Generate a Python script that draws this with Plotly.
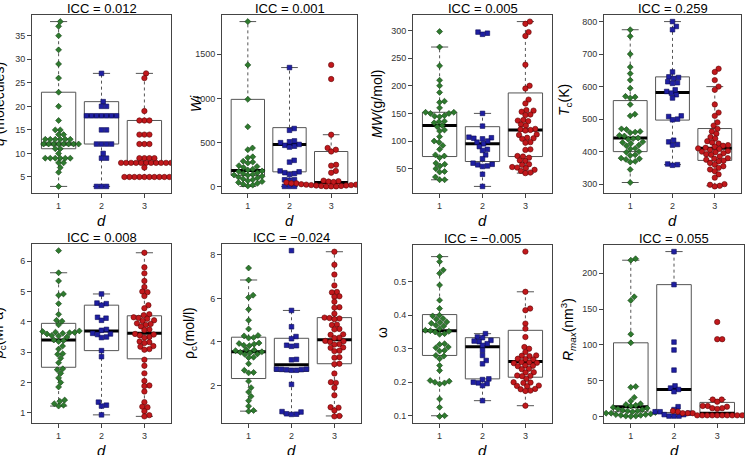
import plotly.graph_objects as go
import numpy as np

W, H = 747, 455
groups = [1, 2, 3]

# ---------------- data ----------------
q1 = [38, 37, 35, 32, 29, 26, 23, 20, 17, 15, 15, 14, 14, 13, 13, 13, 13, 13, 13, 12, 12, 12, 12, 12, 12, 12, 12,
      11, 11, 10, 9, 9, 9, 9, 9, 9, 8, 8, 7, 6, 3]
q2 = [27, 21, 20, 20, 18, 18, 18, 18, 18, 18, 18, 15, 15, 12, 12, 12, 12, 10, 9, 9, 3, 3, 3]
q3 = [27, 26, 19, 17, 17, 17, 14, 14, 14, 12, 12, 12, 9, 9, 9, 9, 8, 8, 8, 8, 8, 8, 8, 8, 8, 8, 8, 7,
      5, 5, 5, 5, 5, 5, 5, 5, 5, 5]
q_box = dict(lo=[3, 3, 5], q1=[11, 12, 8], med=[12, 18, 8], q3=[23, 21, 17], hi=[38, 27, 27])

w1 = [1870, 1380, 990, 680, 440, 420, 340, 330, 290, 280, 270, 240, 230, 220, 200, 190, 180, 175, 160, 150, 140,
      135, 130, 120, 110, 100, 90, 80, 70, 60, 50, 40, 30, 20, 10]
w2 = [1350, 660, 640, 520, 510, 500, 480, 470, 460, 450, 300, 280, 180, 170, 160, 150, 140, 80, 80, 75, 5, 5, 5]
w3 = [1380, 1220, 590, 440, 420, 400, 250, 240, 180, 160, 70, 65, 60, 55, 50, 50, 45, 40, 40, 35, 30, 30, 25, 25,
      20, 20, 15, 15, 10, 10, 5, 5, 5]
w_box = dict(lo=[5, 5, 5], q1=[130, 170, 15], med=[185, 480, 50], q3=[990, 670, 400], hi=[1870, 1350, 590])

m1 = [298, 270, 236, 210, 200, 188, 172, 170, 160, 152, 152, 150, 150, 146, 145, 144, 136, 135, 133, 128, 126, 120,
      118, 108, 100, 98, 92, 85, 75, 73, 70, 60, 58, 55, 50, 45, 44, 35, 30, 30]
m2 = [297, 295, 293, 150, 127, 107, 106, 105, 104, 100, 98, 95, 90, 85, 83, 75, 68, 60, 58, 57, 55, 54, 40, 18]
m3 = [316, 312, 297, 290, 238, 200, 195, 175, 168, 156, 155, 153, 148, 147, 138, 137, 136, 130, 128, 122, 121, 120,
      119, 112, 111, 106, 105, 104, 98, 97, 85, 84, 73, 72, 70, 65, 64, 58, 57, 53, 52, 51, 48, 46, 43, 42]
m_box = dict(lo=[30, 18, 42], q1=[72, 63, 72], med=[128, 95, 120], q3=[152, 126, 187], hi=[270, 150, 316])

t1 = [775, 755, 700, 660, 640, 620, 595, 570, 568, 565, 545, 515, 510, 470, 468, 462, 460, 458, 450, 448, 442, 440,
      438, 430, 428, 425, 420, 418, 410, 408, 400, 398, 390, 388, 380, 378, 376, 370, 368, 345, 305]
t2 = [800, 785, 775, 645, 630, 628, 625, 615, 612, 610, 590, 585, 580, 575, 565, 510, 508, 500, 498, 435, 430, 422,
      420, 362, 360, 358]
t3 = [655, 645, 620, 600, 590, 545, 520, 510, 490, 480, 470, 462, 455, 445, 440, 432, 428, 425, 420, 418, 415, 412,
      410, 408, 405, 402, 400, 398, 395, 392, 390, 385, 380, 378, 375, 372, 370, 365, 360, 355, 350, 345, 340, 330,
      320, 300, 298, 295, 293]
t_box = dict(lo=[305, 360, 295], q1=[400, 497, 373], med=[442, 582, 410], q3=[557, 630, 471], hi=[775, 800, 600])

p1 = [6.35, 5.62, 5.35, 4.92, 4.88, 4.6, 4.25, 4.05, 4.02, 3.9, 3.7, 3.68, 3.66, 3.65, 3.64, 3.62, 3.6, 3.55, 3.53,
      3.5, 3.4, 3.38, 3.35, 3.2, 3.1, 2.95, 2.93, 2.8, 2.65, 2.45, 2.42, 2.3, 2.15, 2.0, 1.85, 1.42, 1.38, 1.3, 1.25,
      1.22]
p2 = [4.92, 4.62, 4.6, 4.55, 4.15, 4.12, 4.05, 3.75, 3.72, 3.62, 3.6, 3.58, 3.5, 3.48, 3.05, 2.85, 1.35, 1.25, 1.22,
      0.93]
p3 = [6.28, 5.8, 5.6, 5.35, 5.15, 5.0, 4.98, 4.85, 4.55, 4.45, 4.25, 4.22, 4.15, 4.13, 4.1, 4.05, 4.03, 3.95, 3.93,
      3.9, 3.85, 3.75, 3.73, 3.6, 3.58, 3.55, 3.5, 3.48, 3.35, 3.33, 3.3, 3.2, 3.18, 3.1, 3.08, 2.75, 2.55, 2.3, 2.05,
      1.9, 1.88, 1.7, 1.35, 1.2, 1.18, 1.05, 0.92, 0.88]
p_box = dict(lo=[1.22, 0.93, 0.88], q1=[2.5, 3.05, 2.78], med=[3.4, 3.7, 3.62], q3=[3.95, 4.55, 4.2],
             hi=[5.62, 4.92, 6.28])

r1 = [7.4, 6.85, 6.15, 6.05, 5.5, 5.0, 4.6, 4.3, 4.28, 4.2, 4.18, 3.95, 3.93, 3.9, 3.85, 3.83, 3.65, 3.63, 3.6, 3.55,
      3.53, 3.5, 3.45, 3.43, 3.3, 3.28, 3.0, 2.7, 2.6, 2.58, 2.2, 1.9, 1.7, 1.5, 1.3, 1.05, 0.85, 0.82]
r2 = [8.2, 5.45, 4.7, 4.25, 4.15, 3.85, 3.83, 3.8, 3.2, 3.18, 2.75, 2.75, 2.74, 2.73, 2.72, 2.7, 2.7, 2.05, 0.8, 0.78,
      0.7, 0.68, 0.67]
r3 = [8.15, 7.55, 7.1, 6.6, 6.3, 6.28, 6.1, 6.08, 5.85, 5.6, 5.58, 5.3, 5.12, 5.1, 5.08, 5.05, 4.8, 4.78, 4.6, 4.58,
      4.35, 4.33, 4.2, 4.18, 4.05, 4.03, 4.0, 3.9, 3.88, 3.75, 3.73, 3.6, 3.58, 3.3, 3.28, 3.0, 2.98, 2.55, 2.15,
      2.12, 1.9, 1.55, 1.0, 0.98, 0.85, 0.6, 0.58]
r_box = dict(lo=[0.82, 0.68, 0.6], q1=[2.32, 2.65, 3.0], med=[3.55, 2.95, 4.1], q3=[4.22, 4.17, 5.12],
             hi=[6.85, 5.45, 8.15])

o1 = [0.575, 0.56, 0.535, 0.525, 0.49, 0.445, 0.42, 0.40, 0.398, 0.39, 0.388, 0.38, 0.378, 0.376, 0.37, 0.368, 0.36,
      0.355, 0.354, 0.352, 0.35, 0.345, 0.343, 0.315, 0.313, 0.305, 0.303, 0.295, 0.293, 0.28, 0.278, 0.27, 0.25,
      0.235, 0.205, 0.203, 0.2, 0.198, 0.195, 0.15, 0.125, 0.1, 0.098]
o2 = [0.345, 0.335, 0.333, 0.325, 0.323, 0.321, 0.315, 0.31, 0.295, 0.28, 0.265, 0.255, 0.21, 0.208, 0.2, 0.198,
      0.196, 0.19, 0.145]
o3 = [0.59, 0.47, 0.42, 0.415, 0.375, 0.36, 0.335, 0.305, 0.3, 0.29, 0.28, 0.279, 0.278, 0.27, 0.269, 0.268, 0.26,
      0.259, 0.258, 0.257, 0.25, 0.249, 0.248, 0.24, 0.239, 0.23, 0.229, 0.22, 0.219, 0.218, 0.21, 0.2, 0.199, 0.198,
      0.19, 0.189, 0.188, 0.18, 0.179, 0.175, 0.174, 0.13]
o_box = dict(lo=[0.1, 0.145, 0.13], q1=[0.28, 0.21, 0.215], med=[0.354, 0.306, 0.262], q3=[0.402, 0.333, 0.355],
             hi=[0.575, 0.345, 0.47])

R1 = [220, 218, 167, 162, 115, 103, 42, 41, 27, 22, 18, 17, 16, 15, 13, 12, 11, 10, 9, 8, 8, 7, 6, 5, 5, 4, 3, 3,
      2, 2, 1, 1, 0.5]
R2 = [230, 184, 104, 93, 65, 43, 40, 38, 35, 14, 10, 7, 7, 5, 3, 3, 1, 1, 1]
R3 = [132, 108, 108, 24, 24, 21, 15, 15, 14, 12, 12, 11, 8, 8, 8, 7, 5, 5, 5, 5, 5, 5, 2, 2, 2, 2, 2, 2, 2, 2,
      2, 2]
R_box = dict(lo=[0.5, 0.5, 0.5], q1=[7, 6, 1.5], med=[14, 38, 5], q3=[103, 184, 20], hi=[218, 230, 24])

titles = ["ICC = 0.012", "ICC = 0.001", "ICC = 0.005", "ICC = 0.259",
          "ICC = 0.008", "ICC = \u22120.024", "ICC = \u22120.005", "ICC = 0.055"]
ylabels = ["<i>q</i> (molecules)", "<i>Wi</i>", "<i>MW</i>(g/mol)", "<i>T</i><sub>c</sub>(K)",
           "<i>p</i><sub>c</sub>(MPa)", "\u03c1<sub>c</sub>(mol/l)", "\u03c9",
           "<i>R</i><sub><i>max</i></sub>(nm<sup>3</sup>)"]
yticks = [[5, 10, 15, 20, 25, 30, 35], [0, 500, 1000, 1500], [50, 100, 150, 200, 250, 300],
          [300, 400, 500, 600, 700, 800], [1, 2, 3, 4, 5, 6], [2, 4, 6, 8], [0.1, 0.2, 0.3, 0.4, 0.5],
          [0, 50, 100, 150, 200]]
xlabel = "d"

panel_data = [(q1, q2, q3), (w1, w2, w3), (m1, m2, m3), (t1, t2, t3),
              (p1, p2, p3), (r1, r2, r3), (o1, o2, o3), (R1, R2, R3)]
panel_box = [q_box, w_box, m_box, t_box, p_box, r_box, o_box, R_box]

# ---------------- layout (pixels) ----------------
frames = [(32, 171, 15, 193), (222, 357, 15, 193), (413, 552, 15, 193), (604, 741, 15, 193),
          (32, 171, 244, 423), (222, 361, 244, 423), (413, 552, 245, 423), (604, 744, 245, 423)]
ylab_pos = [(-1, 104), (196, 104), (377, 104), (565, 100), (-1, 333), (190, 333), (382, 333), (568, 330)]

fill_cols = ["#2e7b2e", "#1f1fa3", "#c2181c"]
edge_cols = ["#103d10", "#0a0a55", "#5c0505"]
symbols = ["diamond", "square", "circle"]
msizes = [4.6, 4.6, 5.4]
XR = [0.38, 3.62]


def swarm(vals, ppy, ppx, d):
    vals = np.asarray(vals, float)
    order = np.argsort(vals, kind="stable")
    placed = []
    xs = np.zeros(len(vals))
    for i in order:
        y = vals[i] * ppy
        near = [(px, py) for px, py in placed if abs(py - y) < d]
        cands = [0.0]
        for px, py in near:
            dx = np.sqrt(d * d - (py - y) ** 2)
            cands += [px + dx, px - dx]
        cands.sort(key=lambda c: (round(abs(c), 6), -c))
        for c in cands:
            if all((c - px) ** 2 + (y - py) ** 2 >= d * d - 1e-6 for px, py in near):
                xs[i] = c
                break
        placed.append((xs[i], y))
    return xs / ppx


fig = go.Figure()
annotations = []
layout_axes = {}
BOXC = "#555555"

for k in range(8):
    x0, x1, y0, y1 = frames[k]
    ax = "" if k == 0 else str(k + 1)
    xa, ya = "x" + ax, "y" + ax
    data = panel_data[k]
    allv = np.concatenate([np.asarray(g, float) for g in data])
    lo, hi = allv.min(), allv.max()
    yr = [lo - 0.04 * (hi - lo), hi + 0.04 * (hi - lo)]
    ppy = (y1 - y0) / (yr[1] - yr[0])
    ppx = (x1 - x0) / (XR[1] - XR[0])
    st = panel_box[k]
    for gi, g in enumerate(groups):
        fig.add_trace(go.Scatter(x=[g, g, None, g, g], y=[st["lo"][gi], st["q1"][gi], None, st["q3"][gi], st["hi"][gi]],
                                 mode="lines", line=dict(color=BOXC, width=1, dash="3px,3px"),
                                 xaxis=xa, yaxis=ya, hoverinfo="skip", showlegend=False))
        fig.add_trace(go.Scatter(x=[g - 0.2, g + 0.2, None, g - 0.2, g + 0.2],
                                 y=[st["lo"][gi], st["lo"][gi], None, st["hi"][gi], st["hi"][gi]],
                                 mode="lines", line=dict(color=BOXC, width=1),
                                 xaxis=xa, yaxis=ya, hoverinfo="skip", showlegend=False))
        fig.add_trace(go.Scatter(x=[g - 0.4, g + 0.4, g + 0.4, g - 0.4, g - 0.4],
                                 y=[st["q1"][gi], st["q1"][gi], st["q3"][gi], st["q3"][gi], st["q1"][gi]],
                                 mode="lines", line=dict(color=BOXC, width=1), fill="toself", fillcolor="white",
                                 xaxis=xa, yaxis=ya, hoverinfo="skip", showlegend=False))
        fig.add_trace(go.Scatter(x=[g - 0.4, g + 0.4], y=[st["med"][gi], st["med"][gi]],
                                 mode="lines", line=dict(color="black", width=3),
                                 xaxis=xa, yaxis=ya, hoverinfo="skip", showlegend=False))
    for gi, g in enumerate(groups):
        vals = data[gi]
        offs = swarm(vals, ppy, ppx, 5.0)
        fig.add_trace(go.Scatter(x=g + offs, y=vals, mode="markers",
                                 marker=dict(symbol=symbols[gi], size=msizes[gi], color=fill_cols[gi],
                                             line=dict(color=edge_cols[gi], width=0.6)),
                                 xaxis=xa, yaxis=ya, hoverinfo="skip", showlegend=False))

    tf = dict(size=9, color="#333", family="Liberation Sans")
    layout_axes["xaxis" + ax] = dict(domain=[x0 / W, x1 / W], range=XR, anchor=ya, tickvals=groups,
                                     ticktext=[str(g) for g in groups], ticks="outside", ticklen=4,
                                     tickcolor="#444", showline=True, mirror=True, linecolor="#444",
                                     linewidth=1, showgrid=False, zeroline=False, tickfont=tf)
    layout_axes["yaxis" + ax] = dict(domain=[1 - y1 / H, 1 - y0 / H], range=yr, anchor=xa, tickvals=yticks[k],
                                     ticks="outside", ticklen=4, tickcolor="#444", showline=True, mirror=True,
                                     linecolor="#444", linewidth=1, showgrid=False, zeroline=False, tickfont=tf)
    cx = (x0 + x1) / 2
    annotations.append(dict(text=titles[k], x=cx / W, y=1 - (y0 - 7) / H, xref="paper", yref="paper",
                            xanchor="center", yanchor="middle", showarrow=False,
                            font=dict(size=13, color="black", family="Liberation Sans")))
    annotations.append(dict(text="<i>%s</i>" % xlabel, x=cx / W, y=1 - (y1 + 27) / H, xref="paper", yref="paper",
                            xanchor="center", yanchor="middle", showarrow=False,
                            font=dict(size=15, color="black", family="Liberation Sans")))
    lx, ly = ylab_pos[k]
    annotations.append(dict(text=ylabels[k], x=lx / W, y=1 - ly / H, xref="paper", yref="paper",
                            xanchor="center", yanchor="middle", textangle=-90, showarrow=False,
                            font=dict(size=14, color="black", family="Liberation Sans")))

fig.update_layout(width=W, height=H, margin=dict(l=0, r=0, t=0, b=0), paper_bgcolor="white",
                  plot_bgcolor="white", annotations=annotations, **layout_axes)
fig.write_html("out.html")
